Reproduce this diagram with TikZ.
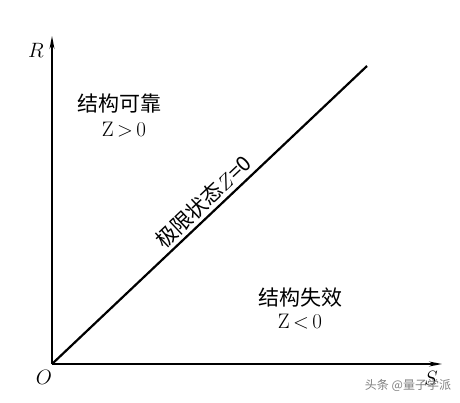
\documentclass[tikz,border=0pt]{standalone}
\usepackage{fontspec}
\newfontfamily\cjk{Noto Sans CJK SC}
\usetikzlibrary{arrows.meta, calc, positioning}

\begin{document}
\begin{tikzpicture}[x=1pt, y=1pt, font=\fontsize{21}{25}\selectfont,
    axis/.style={line width=1.3pt, -{Stealth[length=13pt, width=5pt]}}]
        \useasboundingbox (0, 0) rectangle (460, 402);
        \coordinate (O) at (52, 38);
        \coordinate (Rtip) at (52, 366);
        \coordinate (Stip) at (442, 38);
        \coordinate (Lend) at (367, 336);
        \node (NO) at (44, 25) {$O$};
        \node (NR) at (36, 352) {$R$};
        \node (NS) at (431, 24) {$S$};
        \node (Nsafe) at (119, 298) {\cjk 结构可靠};
        \node (Nsafez) at (124, 272) {Z\,$>$\,0};
        \node (Nfail) at (300, 104) {\cjk 结构失效};
        \node (Nfailz) at (300, 80) {Z\,$<$\,0};
        \draw[axis] (O) -- (Rtip);
        \draw[axis] (O) -- (Stip);
        \draw[line width=2.2pt] (O) -- node[sloped, above, pos=0.51, inner sep=3pt] (Nlim) {\cjk 极限状态$Z$=0} (Lend);
        \node[text=gray, font=\cjk\fontsize{12}{14}\selectfont] (Nmark) at (408, 17) {头条 @量子学派};
\end{tikzpicture}
\end{document}
